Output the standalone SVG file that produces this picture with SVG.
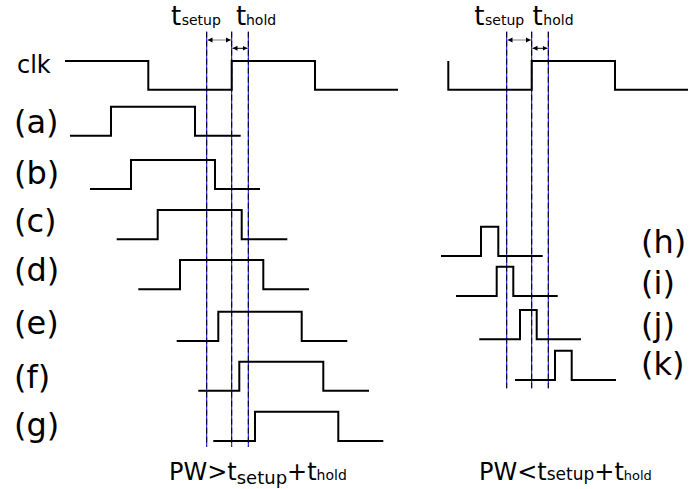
<svg xmlns="http://www.w3.org/2000/svg" width="689" height="489" viewBox="0 0 689 489">
<defs>
<style>
.wave{fill:none;stroke:#000;stroke-width:2;stroke-linejoin:miter;stroke-linecap:butt}
.guide{stroke:#0000ff;stroke-width:1}
.dash{stroke:#000;stroke-width:1;stroke-dasharray:6,3}
.lbl{font-family:"DejaVu Sans","Liberation Sans",sans-serif;font-size:32px;fill:#000}
.clk{font-family:"DejaVu Sans","Liberation Sans",sans-serif;font-size:24px;fill:#000}
.t{font-family:"DejaVu Sans","Liberation Sans",sans-serif;font-size:26px;fill:#000}
.cap{font-family:"DejaVu Sans","Liberation Sans",sans-serif;font-size:24px;fill:#000}
.s{font-size:14px}
.arr{stroke-width:1;fill:none}
</style>
<marker id="ah" markerWidth="6" markerHeight="6" refX="5" refY="3" orient="auto-start-reverse" markerUnits="userSpaceOnUse">
<path d="M0,0.5 L5,3 L0,5.5 Z" fill="#000"/>
</marker>
</defs>
<rect width="689" height="489" fill="#fff"/>

<g id="guides">
<line class="guide" x1="206.7" y1="31.7" x2="206.7" y2="446.7"/>
<line class="guide" x1="231.7" y1="31.7" x2="231.7" y2="446.7"/>
<line class="guide" x1="248.3" y1="31.7" x2="248.3" y2="446.7"/>
<line class="dash" x1="206.7" y1="31.7" x2="206.7" y2="446.7"/>
<line class="dash" x1="231.7" y1="31.7" x2="231.7" y2="446.7"/>
<line class="dash" x1="248.3" y1="31.7" x2="248.3" y2="446.7"/>
<line class="guide" x1="506.7" y1="31.7" x2="506.7" y2="388.3"/>
<line class="guide" x1="531.7" y1="31.7" x2="531.7" y2="388.3"/>
<line class="guide" x1="548.3" y1="31.7" x2="548.3" y2="388.3"/>
<line class="dash" x1="506.7" y1="31.7" x2="506.7" y2="388.3"/>
<line class="dash" x1="531.7" y1="31.7" x2="531.7" y2="388.3"/>
<line class="dash" x1="548.3" y1="31.7" x2="548.3" y2="388.3"/>
</g>

<g id="connectors">
<line class="arr" stroke="#808080" x1="207.5" y1="40" x2="230.9" y2="40" marker-start="url(#ah)" marker-end="url(#ah)"/>
<line class="arr" stroke="#000" x1="232.5" y1="48.3" x2="247.5" y2="48.3" marker-start="url(#ah)" marker-end="url(#ah)"/>
<line class="arr" stroke="#808080" x1="507.5" y1="40" x2="530.9" y2="40" marker-start="url(#ah)" marker-end="url(#ah)"/>
<line class="arr" stroke="#000" x1="532.5" y1="48.3" x2="547.5" y2="48.3" marker-start="url(#ah)" marker-end="url(#ah)"/>
</g>

<g id="timing-labels">
<text class="t" x="171" y="25">t</text><text class="t s" x="181.7" y="25">setup</text>
<text class="t" x="236" y="25">t</text><text class="t s" x="246" y="25">hold</text>
<text class="t" x="474.3" y="25">t</text><text class="t s" x="485" y="25">setup</text>
<text class="t" x="532.6" y="25">t</text><text class="t s" x="543.3" y="25">hold</text>
</g>

<g id="clk-left">
<text class="clk" x="17" y="72.7">clk</text>
<path class="wave" d="M65,61 H148.3 V89.7 H231.7 V61 H315 V89.7 H398"/>
</g>
<g id="clk-right">
<path class="wave" d="M448.3,61 V89.7 H531.7 V61 H615 V89.7 H688"/>
</g>

<g id="a"><text class="lbl" x="14" y="133">(a)</text><path class="wave" d="M70,135.7 H111 V106.7 H195 V135.7 H240.7"/></g>
<g id="b"><text class="lbl" x="14" y="184">(b)</text><path class="wave" d="M90,189 H131 V160 H215 V189 H260"/></g>
<g id="c"><text class="lbl" x="14" y="231.5">(c)</text><path class="wave" d="M116.7,239.3 H157.7 V210 H241.7 V239.3 H287.3"/></g>
<g id="d"><text class="lbl" x="14" y="280.5">(d)</text><path class="wave" d="M138.3,289.3 H180 V260 H263.3 V289.3 H309"/></g>
<g id="e"><text class="lbl" x="14" y="334">(e)</text><path class="wave" d="M176.7,341 H218.3 V311.7 H301.7 V341 H347.3"/></g>
<g id="f"><text class="lbl" x="14" y="388">(f)</text><path class="wave" d="M198.3,390.7 H239.3 V361.7 H323.3 V390.7 H369"/></g>
<g id="g"><text class="lbl" x="14" y="436">(g)</text><path class="wave" d="M213.3,441 H255 V411.7 H338.3 V441 H383.3"/></g>

<g id="h"><text class="lbl" x="641" y="253">(h)</text><path class="wave" d="M441,256 H481 V226.7 H498.3 V256 H542.7"/></g>
<g id="i"><text class="lbl" x="641" y="294">(i)</text><path class="wave" d="M456,296 H496.7 V266.7 H513.3 V296 H557.7"/></g>
<g id="j"><text class="lbl" x="641" y="336">(j)</text><path class="wave" d="M479.3,339.3 H520 V310 H536.7 V339.3 H581"/></g>
<g id="k"><text class="lbl" x="641" y="375">(k)</text><path class="wave" d="M515,380 H555 V350.7 H571.7 V380 H616"/></g>

<g id="captions">
<text class="cap" x="169" y="480">PW&gt;t<tspan font-size="18" dy="3.5">setup</tspan><tspan dy="-3.5">+t</tspan><tspan font-size="14">hold</tspan></text>
<text class="cap" x="479" y="480">PW&lt;t<tspan font-size="17">setup</tspan>+t<tspan font-size="13">hold</tspan></text>
</g>
</svg>
